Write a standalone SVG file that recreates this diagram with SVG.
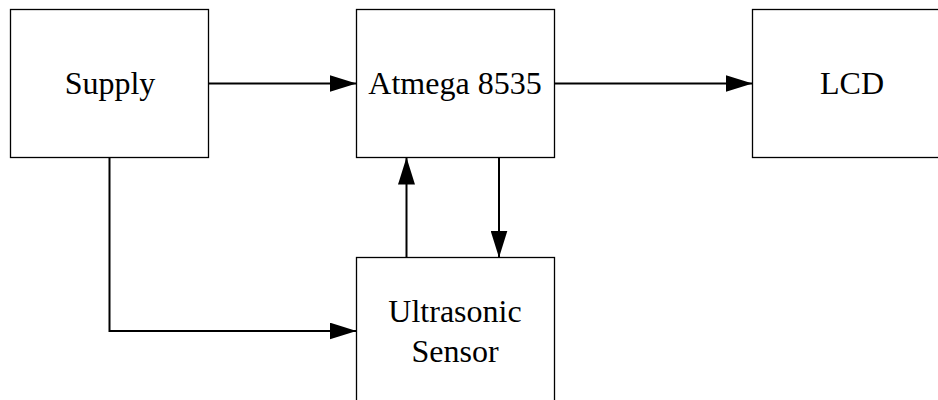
<svg xmlns="http://www.w3.org/2000/svg" width="938" height="400" viewBox="0 0 938 400">
<defs>
<style>
.box{fill:#fff;stroke:#000;stroke-width:1.3}
.lbl{font-family:"Liberation Serif","Times New Roman",serif;font-size:32px;fill:#000;text-anchor:middle}
.conn{fill:none;stroke:#000;stroke-width:2}
</style>
<marker id="ah" viewBox="0 0 27 17" refX="27" refY="8.5" markerWidth="27" markerHeight="17" markerUnits="userSpaceOnUse" orient="auto">
<path d="M0,0 L27,8.5 L0,17 Z" fill="#000"/>
</marker>
</defs>
<rect width="938" height="400" fill="#fff"/>
<g id="supply"><rect class="box" x="10.5" y="9.5" width="198" height="148"/><text class="lbl" x="110" y="94">Supply</text></g>
<g id="atmega"><rect class="box" x="356.5" y="9.5" width="198" height="148"/><text class="lbl" x="455" y="94">Atmega 8535</text></g>
<g id="lcd"><rect class="box" x="752.5" y="9.5" width="198" height="148"/><text class="lbl" x="852" y="94">LCD</text></g>
<g id="ultrasonic"><rect class="box" x="356.5" y="257.5" width="198" height="160"/><text class="lbl" x="455" y="322">Ultrasonic</text><text class="lbl" x="455" y="362">Sensor</text></g>
<g id="connectors">
<line class="conn" x1="209" y1="83.5" x2="356.5" y2="83.5" marker-end="url(#ah)"/>
<line class="conn" x1="555" y1="83.5" x2="752.5" y2="83.5" marker-end="url(#ah)"/>
<line class="conn" x1="406.5" y1="257.5" x2="406.5" y2="157.5" marker-end="url(#ah)"/>
<line class="conn" x1="499" y1="157.5" x2="499" y2="257.5" marker-end="url(#ah)"/>
<polyline class="conn" points="109.5,157.5 109.5,331 356.5,331" marker-end="url(#ah)"/>
</g>
</svg>
